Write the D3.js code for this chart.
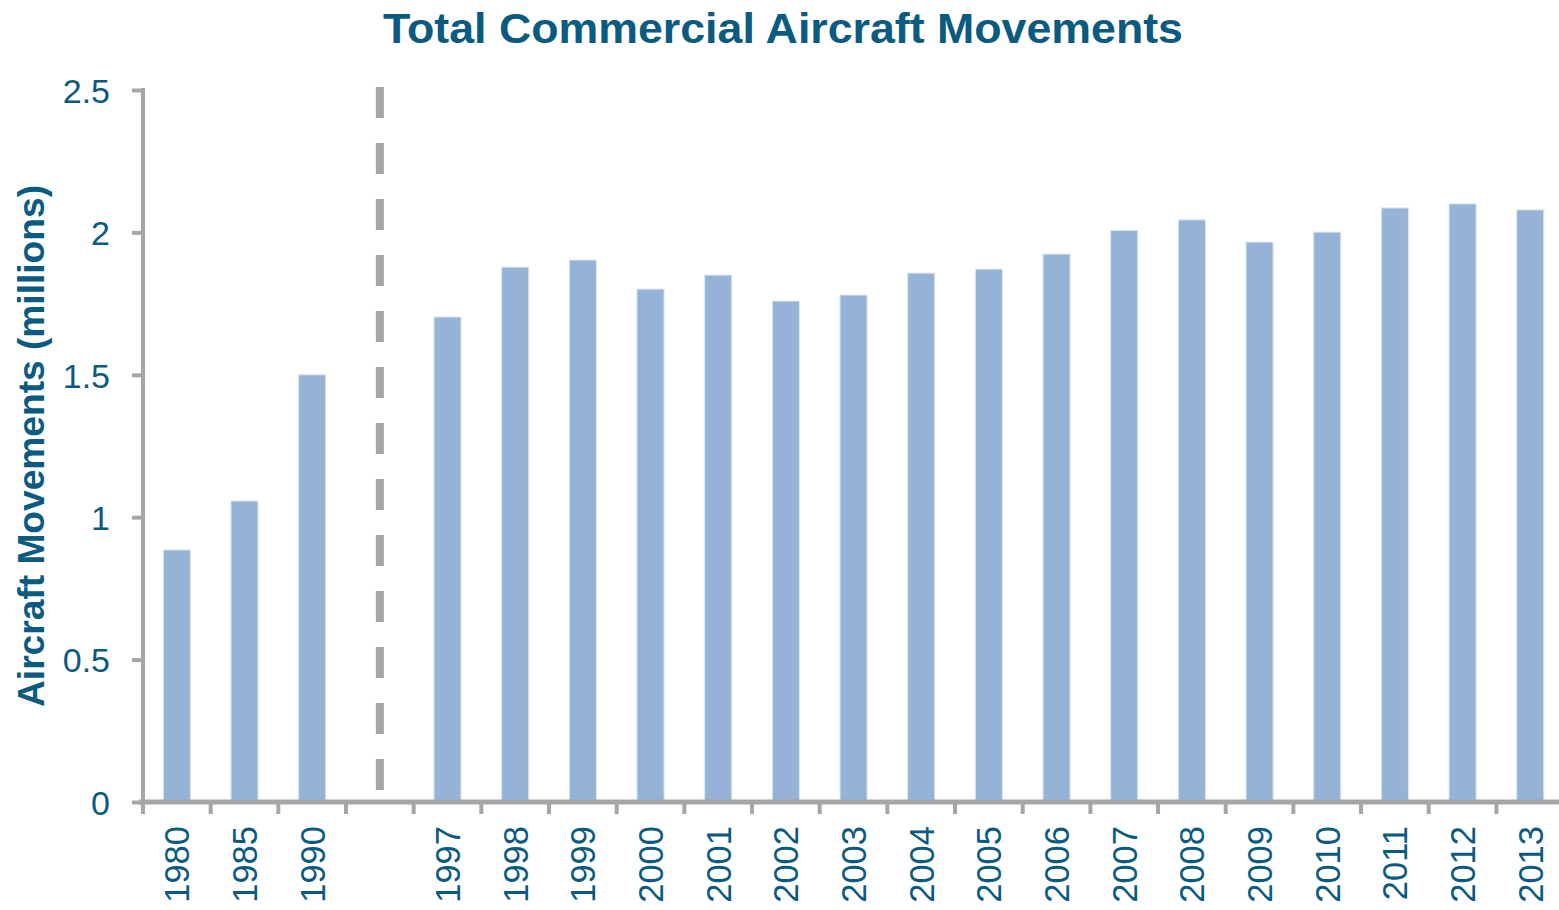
<!DOCTYPE html>
<html>
<head>
<meta charset="utf-8">
<script src="https://cdn.jsdelivr.net/npm/d3@7"></script>
<style>
  html, body { margin: 0; padding: 0; background: #fff; }
  svg { display: block; }
  text { font-family: "Liberation Sans", Arial, sans-serif; }
</style>
</head>
<body>
<svg id="chart" width="1559" height="910"></svg>
<script>
// Categories; the empty slot marks the break in the series (dashed divider)
const categories = ["1980", "1985", "1990", "", "1997", "1998", "1999", "2000", "2001", "2002",
  "2003", "2004", "2005", "2006", "2007", "2008", "2009", "2010", "2011", "2012", "2013"];
// Aircraft movements, millions
const movements = [0.885, 1.057, 1.50, null, 1.703, 1.878, 1.903, 1.801, 1.850, 1.759,
  1.780, 1.857, 1.871, 1.924, 2.007, 2.044, 1.966, 2.001, 2.086, 2.100, 2.079];
const yTicks = [0, 0.5, 1, 1.5, 2, 2.5];
const yTickLabels = ["0", "0.5", "1", "1.5", "2", "2.5"];
const breakCategory = "";

const textColor = "#0B5A80";
const axisColor = "#A6A6A6";
const barColor = "#95B3D7";

const svg = d3.select("#chart");
const plotLeft = 143, plotRight = 143 + 67.67 * 21, plotTop = 90, plotBottom = 802;

const x = d3.scaleBand().domain(categories.map((c, i) => i)).range([plotLeft, plotRight]).paddingInner(0.6).paddingOuter(0.3);
const xBand = d3.scaleBand().domain(categories.map((c, i) => i)).range([plotLeft, plotRight]);
const y = d3.scaleLinear().domain([0, 2.5]).range([plotBottom, plotTop]);

// Title
svg.append("text")
  .attr("x", 783).attr("y", 43)
  .attr("text-anchor", "middle")
  .attr("font-size", 43).attr("font-weight", "bold")
  .attr("fill", textColor)
  .attr("textLength", 800).attr("lengthAdjust", "spacingAndGlyphs")
  .text("Total Commercial Aircraft Movements");

// Y-axis title
svg.append("text")
  .attr("transform", "translate(44,446) rotate(-90)")
  .attr("text-anchor", "middle")
  .attr("font-size", 37.5).attr("font-weight", "bold")
  .attr("fill", textColor)
  .attr("textLength", 522).attr("lengthAdjust", "spacingAndGlyphs")
  .text("Aircraft Movements (millions)");

// Bars
svg.append("g").selectAll("rect")
  .data(movements.map((v, i) => ({ i, v })).filter(d => d.v != null))
  .join("rect")
  .attr("x", d => x(d.i))
  .attr("width", x.bandwidth())
  .attr("y", d => y(d.v))
  .attr("height", d => y(0) - y(d.v))
  .attr("fill", barColor)
  .attr("stroke", "#DCE6F2").attr("stroke-width", 1);

// Dashed divider at the series break
const bi = categories.indexOf(breakCategory);
svg.append("line")
  .attr("x1", xBand(bi) + xBand.bandwidth() / 2).attr("x2", xBand(bi) + xBand.bandwidth() / 2)
  .attr("y1", 87).attr("y2", 790)
  .attr("stroke", axisColor).attr("stroke-width", 8)
  .attr("stroke-dasharray", "31 25");

// Y axis
const yAxis = d3.axisLeft(y).tickValues(yTicks).tickFormat((d, i) => yTickLabels[i]).tickSize(11).tickPadding(22);
const gy = svg.append("g").attr("transform", `translate(${plotLeft},0)`).call(yAxis);
gy.select(".domain").attr("stroke", axisColor).attr("stroke-width", 4).attr("d", `M0,${plotTop - 2}V${plotBottom}`);
gy.selectAll(".tick line").attr("stroke", axisColor).attr("stroke-width", 4);
gy.selectAll(".tick text").attr("fill", textColor).attr("font-size", 34)
  .attr("font-family", "Liberation Sans, Arial, sans-serif").attr("dy", "0.36em");

// X axis: ticks at category boundaries
const gx = svg.append("g").attr("transform", `translate(0,${plotBottom})`);
gx.append("line").attr("x1", plotLeft - 4).attr("x2", 1559).attr("y1", 0).attr("y2", 0)
  .attr("stroke", axisColor).attr("stroke-width", 5);
gx.selectAll("line.tk").data(d3.range(categories.length)).join("line").attr("class", "tk")
  .attr("x1", i => xBand(i)).attr("x2", i => xBand(i))
  .attr("y1", 0).attr("y2", 12)
  .attr("stroke", axisColor).attr("stroke-width", 4);
gx.selectAll("text").data(categories.map((c, i) => ({ c, i })).filter(d => d.c)).join("text")
  .attr("transform", d => `translate(${xBand(d.i) + xBand.bandwidth() / 2},24) rotate(-90)`)
  .attr("text-anchor", "end").attr("dy", "0.36em")
  .attr("font-size", 34.5).attr("fill", textColor)
  .text(d => d.c);
</script>
</body>
</html>
